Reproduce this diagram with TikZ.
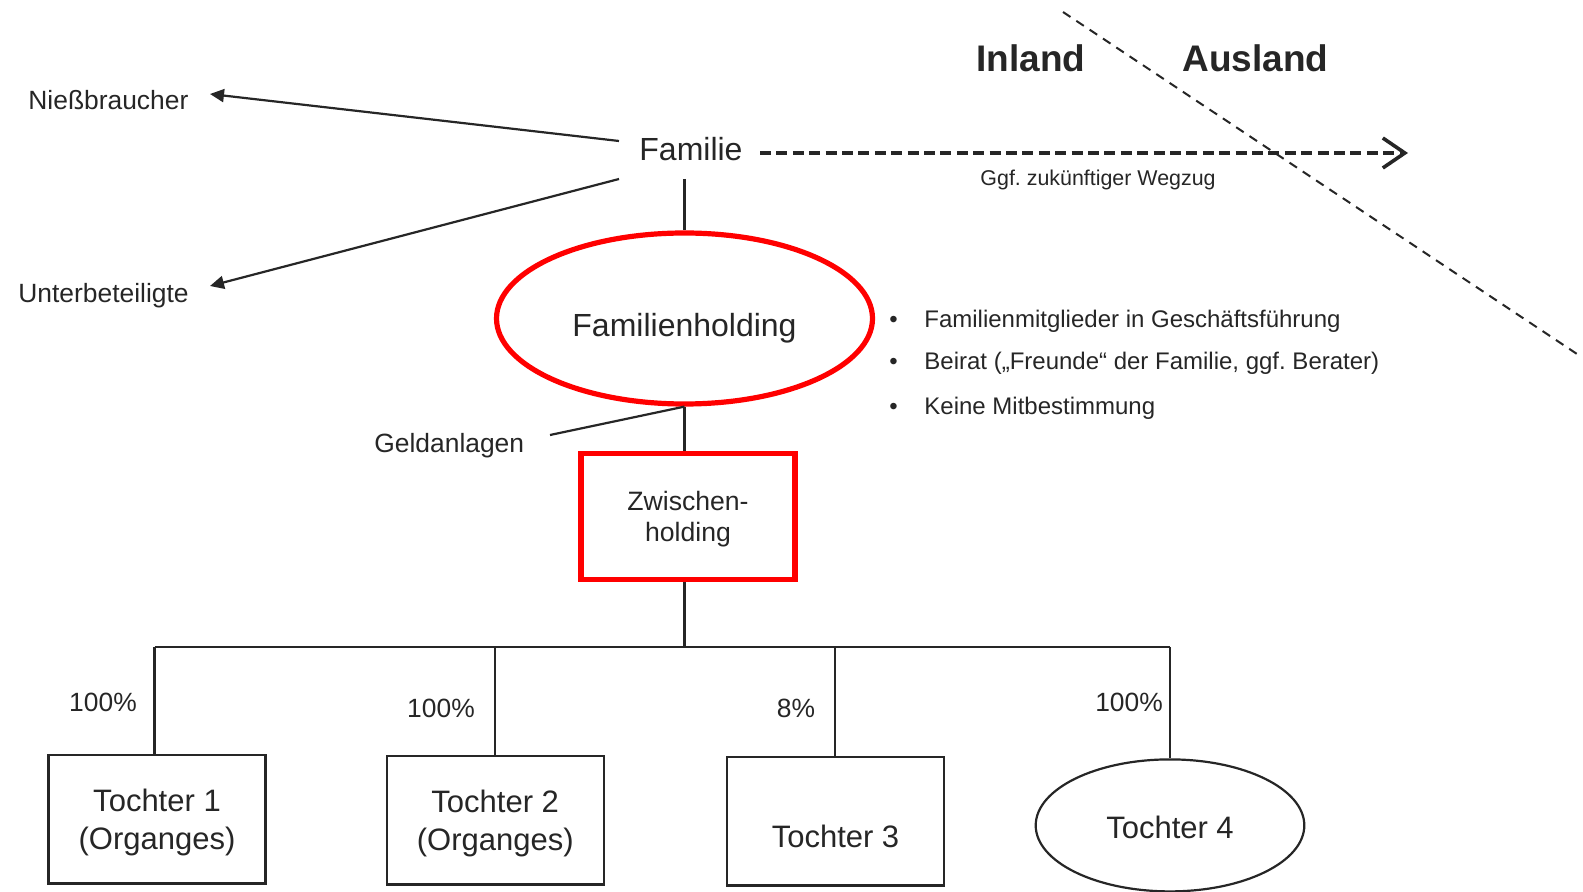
\documentclass[tikz,border=0pt]{standalone}
\usepackage{fontspec}
\setmainfont{Liberation Sans}
\usetikzlibrary{arrows.meta,shapes.geometric}
\definecolor{ink}{HTML}{262626}
\definecolor{hired}{HTML}{FF0000}
\frenchspacing
\begin{document}
\begin{tikzpicture}[x=0.5pt,y=-0.5pt,
  txt/.style={inner sep=0pt, text=ink},
  fsmall/.style={font=\fontsize{10.7}{13}\selectfont},
  fmid/.style={font=\fontsize{13.2}{16}\selectfont},
  fbig/.style={font=\fontsize{16}{19}\selectfont},
  fbullet/.style={font=\fontsize{12}{14}\selectfont},
  ftochter/.style={font=\fontsize{15.5}{19}\selectfont},
  fhead/.style={font=\fontsize{18.5}{22}\selectfont\bfseries},
  conn/.style={draw=ink, line width=1.1pt},
  tip/.style={conn, -{Triangle[length=7pt,width=6.5pt]}},
  redbox/.style={draw=hired, line width=2.6pt, inner sep=0pt, text=ink},
  tbox/.style={draw=ink, line width=1.1pt, rectangle, minimum width=108.5pt,
    minimum height=64.2pt, inner sep=0pt, align=center, text=ink, ftochter},
]
\useasboundingbox (0,0) rectangle (1583,892);

% --- top: family and its relations
\node[txt, fmid, anchor=base west] (nie) at (28,109.5) {Nießbraucher};
\node[txt, fmid, anchor=base west] (unt) at (18,302.5) {Unterbeteiligte};
\node[txt, fbig, anchor=base west] (fam) at (639,161) {Familie};

\coordinate (famUp) at (619,141);
\coordinate (famDown) at (619,179);
\coordinate (nieTip) at (210,94);
\coordinate (untTip) at (210,286);
\draw[tip] (famUp) -- (nieTip);
\draw[tip] (famDown) -- (untTip);

% --- domestic / foreign split
\node[txt, fhead, anchor=base west] (inl) at (976,72) {Inland};
\node[txt, fhead, anchor=base west] (ausl) at (1182,72) {Ausland};
\coordinate (borderTop) at (1063,12);
\coordinate (borderBot) at (1580,356);
\draw[draw=ink, line width=1pt, dash pattern=on 4.5pt off 3.5pt] (borderTop) -- (borderBot);

\coordinate (famEast) at (760,153);
\coordinate (moveEnd) at (1408,153);
\draw[draw=ink, line width=1.8pt, dash pattern=on 5.5pt off 2.7pt,
  -{Straight Barb[length=11pt,width=15pt]}] (famEast) -- (moveEnd);
\node[txt, fsmall, anchor=base] (wegzug) at (1098,185.4) {Ggf. zukünftiger Wegzug};

% --- family holding
\node[redbox, ellipse, minimum width=188pt, minimum height=85.5pt,
  label={[txt, fbig, yshift=-5pt]center:Familienholding}] (fh) at (684.5,318.5) {};
\coordinate (famBot) at (684.5,179);
\draw[conn] (famBot) -- (fh.north);

\node[txt, fbullet, anchor=base west] (b1) at (889,327.6) {\makebox[17.5pt][l]{\textbullet}Familienmitglieder in Geschäftsführung};
\node[txt, fbullet, anchor=base west] (b2) at (889,370) {\makebox[17.5pt][l]{\textbullet}Beirat („Freunde“ der Familie, ggf. Berater)};
\node[txt, fbullet, anchor=base west] (b3) at (889,414.5) {\makebox[17.5pt][l]{\textbullet}Keine Mitbestimmung};

\node[txt, fmid, anchor=base west] (geld) at (374,452.5) {Geldanlagen};
\coordinate (geldEnd) at (550,435);
\draw[conn] (fh.south) -- (geldEnd);

% --- intermediate holding
\node[redbox, rectangle, minimum width=107pt, minimum height=63pt, align=center,
  text depth=0pt, font=\fontsize{13.3}{15.8}\selectfont] (zw) at (688,516.4) {Zwischen-\\holding};
\draw[conn] (fh.south) -- (fh.south |- zw.north);

% --- subsidiaries
\node[tbox, text depth=0pt] (t1) at (157,819.2) {Tochter 1\\(Organges)};
\node[tbox, text depth=0pt] (t2) at (495.2,820.3) {Tochter 2\\(Organges)};
\node[tbox, label={[txt, ftochter, yshift=-7.5pt]center:Tochter 3}] (t3) at (835.5,821.3) {};
\node[draw=ink, line width=1.1pt, ellipse, minimum width=134.3pt, minimum height=66pt,
  inner sep=0pt, text=ink, ftochter, text height=13.3pt] (t4) at (1170,825.4) {Tochter 4};

\coordinate (bus) at (684.5,647);
\coordinate (bus1) at (154.5,647);
\coordinate (bus2) at (495,647);
\coordinate (bus3) at (835,647);
\coordinate (bus4) at (1170,647);
\draw[conn] (zw.south -| fh.south) -- (bus);
\draw[conn] (bus1) -- (bus4);
\draw[conn] (bus1) -- (bus1 |- t1.north);
\draw[conn] (bus2) -- (bus2 |- t2.north);
\draw[conn] (bus3) -- (bus3 |- t3.north);
\draw[conn] (bus4) -- (t4.north);

\node[txt, fmid, anchor=base] (p1) at (103,711) {100\%};
\node[txt, fmid, anchor=base] (p2) at (441,717) {100\%};
\node[txt, fmid, anchor=base] (p3) at (796,717) {8\%};
\node[txt, fmid, anchor=base] (p4) at (1129,711) {100\%};
\end{tikzpicture}
\end{document}
